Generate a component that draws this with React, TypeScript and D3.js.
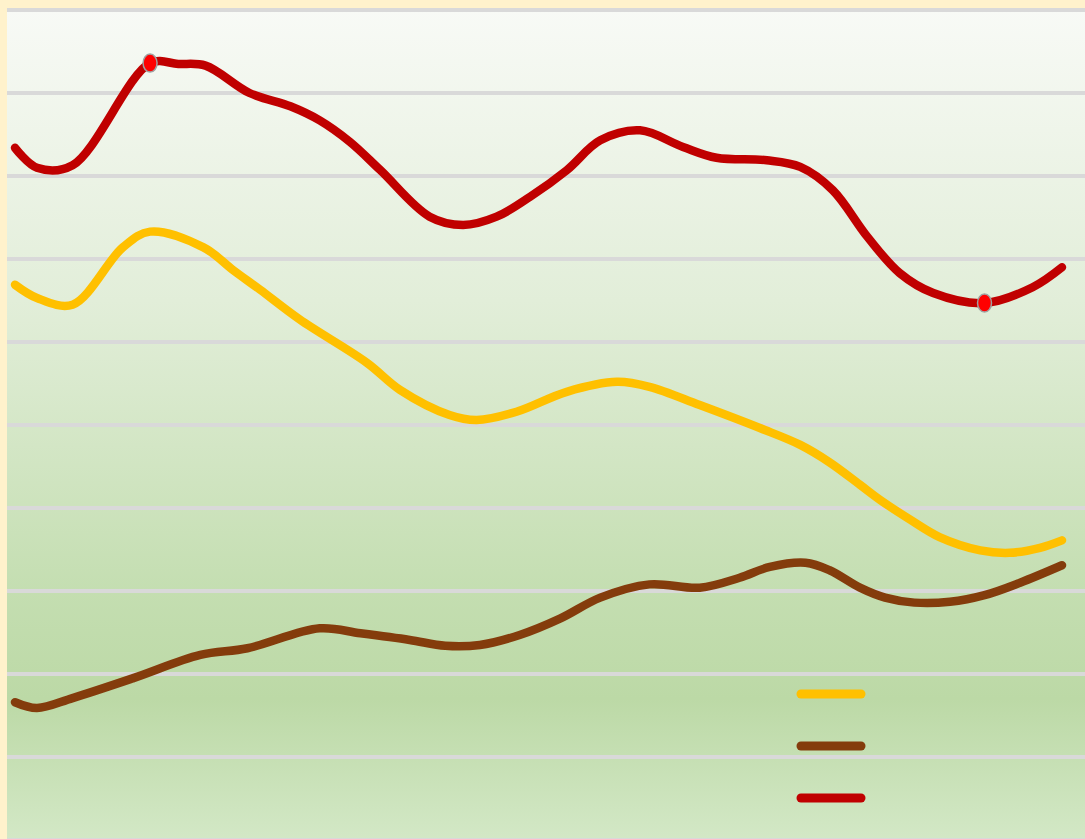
import React from "react";
import * as d3 from "d3";

const W = 1085;
const H = 839;

// x: period index (0..100), y: value (0..100)
const redSeries: [number, number][] = [
  [0, 83.4], [2.1, 81.0], [5.5, 81.3], [12.9, 93.6], [15.6, 93.5], [18.2, 93.3], [22.4, 90.0],
  [26.3, 88.4], [29.1, 86.7], [32.0, 84.1], [34.9, 80.7], [39.6, 75.1], [42.8, 74.1],
  [46.0, 75.1], [49.2, 77.5], [52.7, 80.7], [55.9, 84.3], [59.7, 85.5], [63.8, 83.5],
  [67.0, 82.2], [71.8, 81.9], [75.0, 81.1], [78.1, 78.3], [81.4, 72.7], [84.5, 68.3],
  [87.7, 65.9], [92.6, 64.7], [97.2, 66.6], [100, 69.0],
];
const yellowSeries: [number, number][] = [
  [0, 66.9], [2.1, 65.3], [5.5, 64.5], [10.3, 71.4], [12.9, 73.3], [18.0, 71.4],
  [20.8, 68.7], [23.4, 66.3], [27.2, 62.7], [33.6, 57.5], [36.8, 54.2], [41.5, 51.2],
  [44.1, 50.6], [47.9, 51.6], [52.7, 54.0], [57.5, 55.2], [60.6, 54.6], [65.4, 52.4],
  [71.2, 49.6], [75.0, 47.6], [77.8, 45.5], [80.7, 42.8], [82.6, 41.0], [85.5, 38.6],
  [88.3, 36.5], [92.2, 34.9], [95.0, 34.6], [97.9, 35.2], [100, 36.1],
];
const brownSeries: [number, number][] = [
  [0, 16.6], [2.1, 15.9], [5.5, 17.1], [11.3, 19.5], [17.7, 22.3], [22.2, 23.1],
  [29.1, 25.5], [33.0, 24.9], [37.7, 24.1], [41.1, 23.4], [44.4, 23.5], [48.2, 24.7],
  [52.1, 26.7], [55.9, 29.2], [60.6, 30.8], [65.4, 30.4], [69.2, 31.6], [72.1, 32.9],
  [75.5, 33.4], [77.8, 32.5], [80.7, 30.4], [83.1, 29.2], [85.9, 28.6], [89.3, 28.7],
  [92.6, 29.5], [96.0, 31.0], [100, 33.1],
];
const gridValues = [0, 10, 20, 30, 40, 50, 60, 70, 80, 90, 100];
const legendSeries = ["yellow", "brown", "red"];

const colors: Record<string, string> = {
  red: "#c00000",
  yellow: "#ffc000",
  brown: "#843c0c",
};

export default function App() {
  const plotLeft = 7;
  const plotTop = 10;
  const plotBottom = 840;
  const x = d3.scaleLinear().domain([0, 100]).range([15, 1062]);
  const y = d3.scaleLinear().domain([0, 100]).range([plotBottom, plotTop]);
  const line = d3
    .line<[number, number]>()
    .x((d) => x(d[0]))
    .y((d) => y(d[1]))
    .curve(d3.curveCatmullRom.alpha(0.5));

  const series = [
    { key: "yellow", data: yellowSeries },
    { key: "brown", data: brownSeries },
    { key: "red", data: redSeries },
  ];

  const redMax = redSeries.reduce((a, b) => (b[1] > a[1] ? b : a));
  const redMin = redSeries.reduce((a, b) => (b[1] < a[1] ? b : a));

  return (
    <svg
      width={W}
      height={H}
      style={{ position: "absolute", left: 0, top: 0, display: "block" }}
    >
      <defs>
        <linearGradient id="bg" x1="0" y1="0" x2="0" y2="1">
          <stop offset="0" stopColor="#f8faf6" />
          <stop offset="0.35" stopColor="#e2eed9" />
          <stop offset="0.7" stopColor="#c4deb1" />
          <stop offset="0.83" stopColor="#bcd9a6" />
          <stop offset="1" stopColor="#d3e8c6" />
        </linearGradient>
      </defs>
      <rect x={0} y={0} width={W} height={H} fill="#fff2cc" />
      <rect
        x={plotLeft}
        y={plotTop}
        width={W - plotLeft}
        height={plotBottom - plotTop}
        fill="url(#bg)"
      />
      {gridValues.map((v) => (
        <line
          key={v}
          x1={plotLeft}
          x2={W}
          y1={y(v)}
          y2={y(v)}
          stroke="#d9d9d9"
          strokeWidth={4}
        />
      ))}
      {series.map((s) => (
        <path
          key={s.key}
          d={line(s.data) || ""}
          fill="none"
          stroke={colors[s.key]}
          strokeWidth={8.5}
          strokeLinejoin="round"
          strokeLinecap="round"
        />
      ))}
      {[redMax, redMin].map((p, i) => (
        <ellipse
          key={i}
          cx={x(p[0])}
          cy={y(p[1])}
          rx={7}
          ry={9}
          fill="#ff0000"
          stroke="#a0a0a0"
          strokeWidth={1.5}
        />
      ))}
      {legendSeries.map((k, i) => (
        <line
          key={k}
          x1={801}
          x2={861}
          y1={694 + i * 52}
          y2={694 + i * 52}
          stroke={colors[k]}
          strokeWidth={9}
          strokeLinecap="round"
        />
      ))}
    </svg>
  );
}
